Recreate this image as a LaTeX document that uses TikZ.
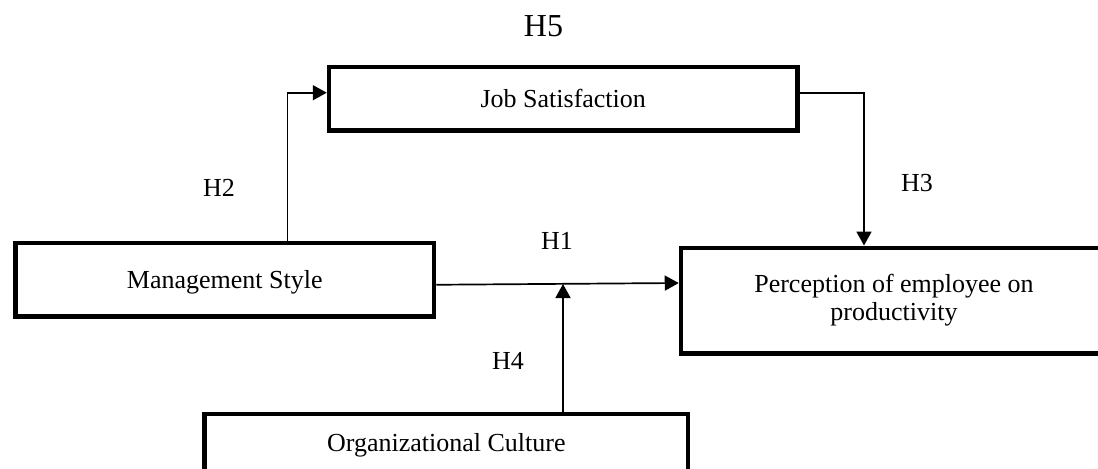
\documentclass[tikz,border=0pt]{standalone}
\usepackage{fontspec}
\setmainfont{Liberation Serif}
\usetikzlibrary{arrows.meta,calc}
\tikzset{
  box/.style={draw=black, line width=2.25pt, fill=white, inner sep=0pt,
    font=\fontsize{13pt}{14pt}\selectfont, align=center},
  arr/.style={draw=black, line width=0.85pt, -{Triangle[length=7pt,width=7.5pt]}},
  hlab/.style={inner sep=0pt, font=\fontsize{13pt}{15pt}\selectfont},
}
\begin{document}
\begin{tikzpicture}[x=0.5pt,y=-0.5pt]
\clip (0,0) rectangle (1098,468);
\fill[white] (0,0) rectangle (1098,468);
% boxes
\node[box, minimum width=209.25pt, minimum height=36.75pt, text depth=0pt] (ms) at (224.75,279.75) {Management Style};
\node[box, minimum width=234.25pt, minimum height=31.75pt, text depth=0pt] (job) at (563.25,98.75) {Job Satisfaction};
\node[box, minimum width=213pt, minimum height=52.75pt] (perc) at (894,300.5) {Perception of employee on\\productivity};
\node[box, minimum width=241.65pt, minimum height=28.5pt, text depth=0pt] (oc) at (446.35,442.5) {Organizational Culture};
% helper coordinates
\coordinate (h2) at (287.5,92.7);
\coordinate (h3) at (864,92.7);
\coordinate (h4) at (563,284);
% connectors
\draw[arr] ($(ms.east)+(0,5)$) -- ($(perc.west)+(0,-17.5)$);
\draw[arr] (ms.north -| h2) |- (job.west |- h2);
\draw[arr] (job.east |- h3) -| (perc.north -| h3);
\draw[arr] (oc.north -| h4) -- (h4);
% labels
\node[hlab, font=\fontsize{16pt}{18pt}\selectfont] (l5) at (543.5,26) {H5};
\node[hlab] (l2) at (219,187.5) {H2};
\node[hlab] (l3) at (917,183) {H3};
\node[hlab] (l1) at (557,241) {H1};
\node[hlab] (l4) at (508,361) {H4};
\end{tikzpicture}
\end{document}
